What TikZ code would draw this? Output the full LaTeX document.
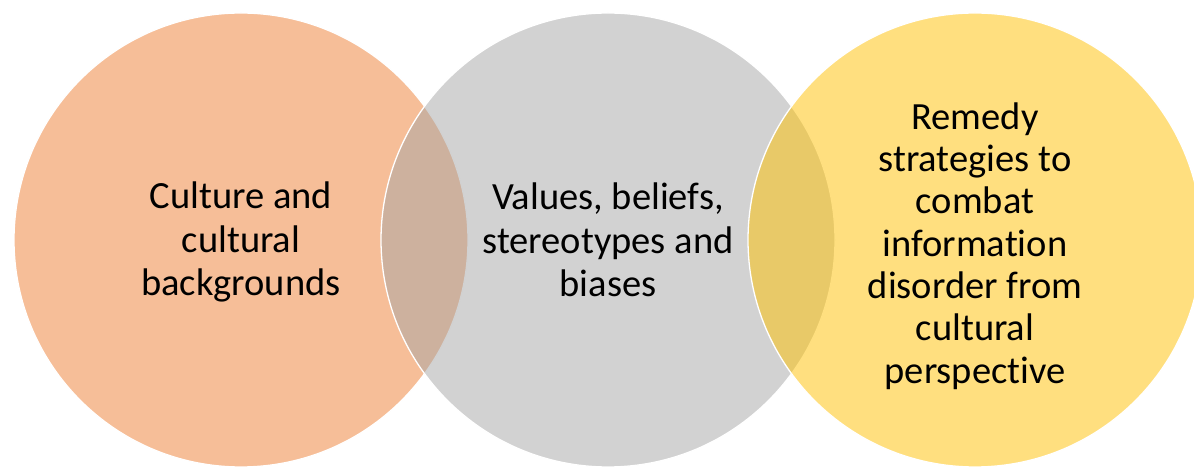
\documentclass[tikz,border=0pt]{standalone}
\usepackage{fontspec}
\setmainfont[Ligatures=NoCommon]{Carlito}
\definecolor{vorange}{HTML}{ED7D31}
\definecolor{vgray}{HTML}{A5A5A5}
\definecolor{vyellow}{HTML}{FFC000}
\begin{document}
\begin{tikzpicture}[x=1pt,y=1pt,
  venn/.style={circle, minimum size=454pt, inner sep=0pt, draw=white, line width=1.3pt, fill opacity=0.5, draw opacity=1},
  lbl/.style={align=center, text=black, font=\fontsize{38.5}{43.5}\selectfont, inner sep=0pt}]
\useasboundingbox (0,0) rectangle (1194,468);
\node[venn, fill=vorange] (c1) at (241,228) {};
\node[venn, fill=vgray] (c2) at (608,228) {};
\node[venn, fill=vyellow] (c3) at (975,228) {};
\node[lbl] (t1) at (241,226) {Culture and\\cultural\\backgrounds};
\node[lbl] (t2) at (608,228) {Values, beliefs,\\stereotypes and\\biases};
\node[lbl, font=\fontsize{38.5}{42.3}\selectfont] (t3) at (975,222) {Remedy\\strategies to\\combat\\information\\disorder from\\cultural\\perspective};
\end{tikzpicture}
\end{document}
